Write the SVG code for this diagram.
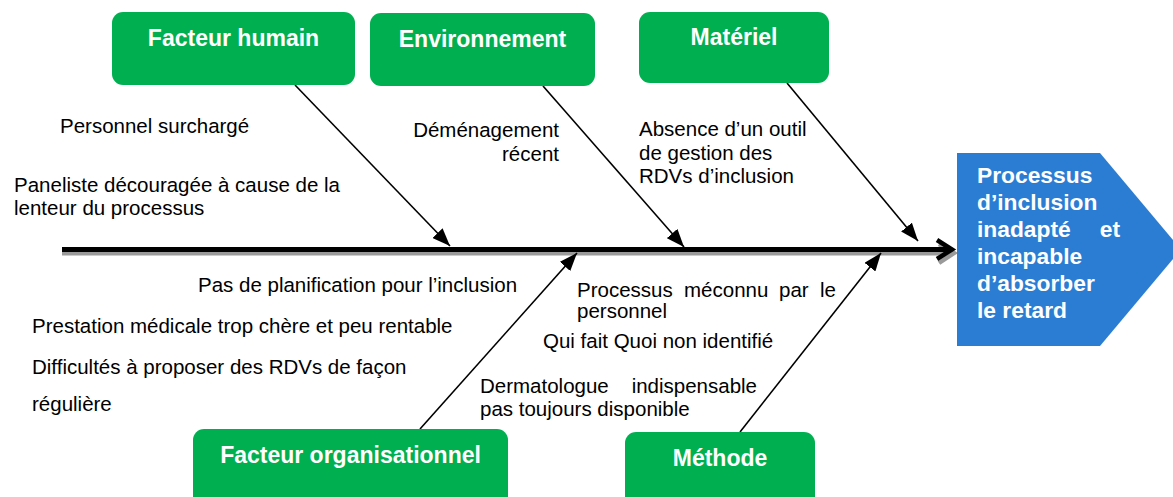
<svg xmlns="http://www.w3.org/2000/svg" width="1173" height="497" viewBox="0 0 1173 497">
<style>
.box{fill:#00B050;}
.boxt{font-family:"Liberation Sans",Arial,sans-serif;font-weight:bold;font-size:23px;fill:#fff;text-anchor:middle;}
.cause{font-family:"Liberation Sans",Arial,sans-serif;font-size:20.5px;fill:#000;}
.eff{font-family:"Liberation Sans",Arial,sans-serif;font-weight:bold;font-size:22.8px;fill:#fff;}
.conn{stroke:#000;stroke-width:1.6;fill:none;marker-end:url(#ah);}
</style>
<defs>
<marker id="ah" markerUnits="userSpaceOnUse" markerWidth="18" markerHeight="14" viewBox="0 0 18 14" refX="18" refY="7" orient="auto">
<path d="M0,0 L18,7 L0,14 Z" fill="#000"/>
</marker>
</defs>
<rect width="1173" height="497" fill="#fff"/>
<g id="spine">
<line x1="62" y1="253" x2="946" y2="253" stroke="#9a9a9a" stroke-width="5"/>
<polyline points="939,244 954,253 939,263" fill="none" stroke="#9a9a9a" stroke-width="4.5"/>
<line x1="62" y1="249.5" x2="948" y2="249.5" stroke="#000" stroke-width="5"/>
<polyline points="937,240 952,249.5 937,259" fill="none" stroke="#000" stroke-width="4.5"/>
</g>
<g id="effect">
<polygon points="957,153 1100,153 1181,249.5 1100,346 957,346" fill="#2B7DD3"/>
<text class="eff" x="977" y="183">Processus</text>
<text class="eff" x="977" y="210">d’inclusion</text>
<text class="eff" x="977" y="237">inadapté</text>
<text class="eff" x="1120" y="237" text-anchor="end">et</text>
<text class="eff" x="977" y="264">incapable</text>
<text class="eff" x="977" y="291">d’absorber</text>
<text class="eff" x="977" y="318">le retard</text>
</g>
<g id="connectors">
<line class="conn" x1="295" y1="85" x2="450" y2="246"/>
<line class="conn" x1="543" y1="86" x2="684" y2="247"/>
<line class="conn" x1="787" y1="83" x2="918" y2="241"/>
<line class="conn" x1="420" y1="429" x2="577" y2="253"/>
<line class="conn" x1="740" y1="432" x2="881" y2="253"/>
</g>
<g id="facteur-humain">
<rect class="box" x="112" y="12" width="243" height="73" rx="11"/>
<text class="boxt" x="233.5" y="46">Facteur humain</text>
</g>
<g id="environnement">
<rect class="box" x="370" y="13" width="225" height="73" rx="11"/>
<text class="boxt" x="482.5" y="47">Environnement</text>
</g>
<g id="materiel">
<rect class="box" x="639" y="12" width="190" height="71" rx="11"/>
<text class="boxt" x="734" y="45">Matériel</text>
</g>
<g id="facteur-organisationnel">
<rect class="box" x="193" y="429" width="315" height="80" rx="11"/>
<text class="boxt" x="350.5" y="463">Facteur organisationnel</text>
</g>
<g id="methode">
<rect class="box" x="625" y="432" width="190" height="80" rx="11"/>
<text class="boxt" x="720" y="466">Méthode</text>
</g>
<g id="causes">
<text class="cause" x="60" y="133">Personnel surchargé</text>
<text class="cause" x="14" y="192">Paneliste découragée à cause de la</text>
<text class="cause" x="14" y="215">lenteur du processus</text>
<text class="cause" x="559" y="137" text-anchor="end">Déménagement</text>
<text class="cause" x="559" y="161" text-anchor="end">récent</text>
<text class="cause" x="639" y="136">Absence d’un outil</text>
<text class="cause" x="639" y="160">de gestion des</text>
<text class="cause" x="639" y="183">RDVs d’inclusion</text>
<text class="cause" x="198" y="292">Pas de planification pour l’inclusion</text>
<text class="cause" x="32" y="333">Prestation médicale trop chère et peu rentable</text>
<text class="cause" x="32" y="374">Difficultés à proposer des RDVs de façon</text>
<text class="cause" x="32" y="411">régulière</text>
<text class="cause" x="577" y="297">Processus</text>
<text class="cause" x="684" y="297">méconnu</text>
<text class="cause" x="779" y="297">par</text>
<text class="cause" x="836" y="297" text-anchor="end">le</text>
<text class="cause" x="577" y="318">personnel</text>
<text class="cause" x="543" y="348">Qui fait Quoi non identifié</text>
<text class="cause" x="480" y="393">Dermatologue</text>
<text class="cause" x="757" y="393" text-anchor="end">indispensable</text>
<text class="cause" x="480" y="416">pas toujours disponible</text>
</g>
</svg>
